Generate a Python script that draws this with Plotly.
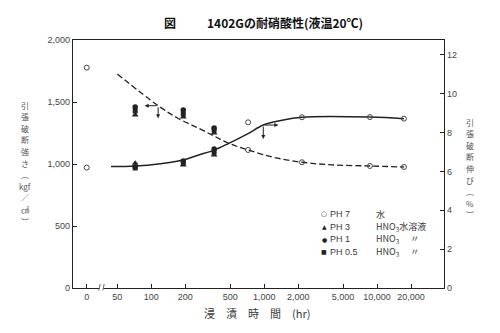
import math
import plotly.graph_objects as go

# ---------------- data ----------------
TICK_HOURS = [50, 100, 200, 500, 1000, 2000, 5000, 10000, 20000]
TICK_TEXT = ["0", "50", "100", "200", "500", "1,000", "2,000", "5,000", "10,000", "20,000"]
ZERO_HOUR_POS = 26.8  # display position of the "0 hr" column on the broken log axis

# tensile strength (kgf/cm2) -> left axis, dashed curve
STR_PH7_HOURS = [0, 720, 2160, 8640, 17280]
STR_PH7 = [1777, 1113, 1014, 984, 976]
ACID_HOURS = [72, 192, 360]
STR_PH3 = [1395, 1379, 1250]
STR_PH1 = [1460, 1435, 1290]
STR_PH05 = [1427, 1403, 1274]
STR_CURVE_HOURS = [50, 115, 172, 260, 360, 486, 720, 1200, 2160, 4000, 8640, 17280]
STR_CURVE = [1726, 1470, 1369, 1290, 1225, 1167, 1113, 1055, 1014, 993, 984, 976]

# elongation (%) -> right axis, solid curve
ELO_PH7_HOURS = [0, 720, 2160, 8640, 17280]
ELO_PH7 = [6.2, 8.53, 8.79, 8.80, 8.72]
ELO_PH3 = [6.42, 6.33, 6.85]
ELO_PH1 = [6.23, 6.54, 7.16]
ELO_PH05 = [6.18, 6.44, 7.0]
ELO_CURVE_HOURS = [44, 72, 120, 192, 263, 360, 486, 720, 982, 1400, 2160, 8640, 17280]
ELO_CURVE = [6.25, 6.28, 6.40, 6.59, 6.85, 7.10, 7.45, 7.95, 8.39, 8.62, 8.79, 8.80, 8.72]

# axis-indicator arrows: tail (hours, value) and heads
STR_ARROW = dict(tail=(115, 1470), left=87.4, down=1369)
ELO_ARROW = dict(tail=(982, 8.39), right=1334, down=7.67)

LEGEND_SYMBOLS = ["○", "▲", "●", "■"]
LEGEND_PH = ["PH 7", "PH 3", "PH 1", "PH 0.5"]
LEGEND_SOLN = ["水", "HNO<sub>3</sub>水溶液", "HNO<sub>3</sub>　 〃", "HNO<sub>3</sub>　 〃"]

LEFT_TITLE = ["引", "張", "破", "断", "強", "さ", "︵", "kgf", "／", "㎠", "︶"]
RIGHT_TITLE = ["引", "張", "破", "断", "伸", "び", "︵", "%", "︶"]

# ---------------- layout helpers ----------------
PL, PR, PT, PB = 73, 444, 40, 288
W, H = 500, 333


def pxx(x):
    return (x - PL) / (PR - PL)


def pxy(y):
    return (PB - y) / (PB - PT)


def pos(hours):
    return [ZERO_HOUR_POS if h == 0 else h for h in hours]


INK = "#222222"
TXT = "#3a3a3a"
JP = "Noto Sans CJK JP"
NUM = "Liberation Sans"

fig = go.Figure()

# curves
fig.add_trace(go.Scatter(x=STR_CURVE_HOURS, y=STR_CURVE, mode="lines", yaxis="y",
                         line=dict(color=INK, width=1.3, dash="6px,3px", shape="spline"),
                         showlegend=False, hoverinfo="skip"))
fig.add_trace(go.Scatter(x=ELO_CURVE_HOURS, y=ELO_CURVE, mode="lines", yaxis="y2",
                         line=dict(color=INK, width=1.5, shape="spline"),
                         showlegend=False, hoverinfo="skip"))

open_marker = dict(symbol="circle-open", size=5, color="#444444", line=dict(width=1))
tri_marker = dict(symbol="triangle-up", size=6, color=INK)
dot_marker = dict(symbol="circle", size=5.5, color=INK)
sq_marker = dict(symbol="square", size=5, color=INK)

# strength markers (left axis)
fig.add_trace(go.Scatter(x=pos(STR_PH7_HOURS), y=STR_PH7, mode="markers", marker=open_marker, yaxis="y", showlegend=False))
fig.add_trace(go.Scatter(x=ACID_HOURS, y=STR_PH3, mode="markers", marker=tri_marker, yaxis="y", showlegend=False))
fig.add_trace(go.Scatter(x=ACID_HOURS, y=STR_PH1, mode="markers", marker=dot_marker, yaxis="y", showlegend=False))
fig.add_trace(go.Scatter(x=ACID_HOURS, y=STR_PH05, mode="markers", marker=sq_marker, yaxis="y", showlegend=False))
# elongation markers (right axis)
fig.add_trace(go.Scatter(x=pos(ELO_PH7_HOURS), y=ELO_PH7, mode="markers", marker=open_marker, yaxis="y2", showlegend=False))
fig.add_trace(go.Scatter(x=ACID_HOURS, y=ELO_PH3, mode="markers", marker=tri_marker, yaxis="y2", showlegend=False))
fig.add_trace(go.Scatter(x=ACID_HOURS, y=ELO_PH1, mode="markers", marker=dot_marker, yaxis="y2", showlegend=False))
fig.add_trace(go.Scatter(x=ACID_HOURS, y=ELO_PH05, mode="markers", marker=sq_marker, yaxis="y2", showlegend=False))

ann = []
# title
ann.append(dict(text="<b>図</b>", x=pxx(170), y=pxy(22), xref="paper", yref="paper",
                showarrow=False, xanchor="center", yanchor="middle",
                font=dict(family=JP, size=12, color="#111")))
ann.append(dict(text="<b>1402Gの耐硝酸性(液温20℃)</b>", x=pxx(205), y=pxy(22), xref="paper", yref="paper",
                showarrow=False, xanchor="left", yanchor="middle",
                font=dict(family=JP, size=12, color="#111")))
# x-axis title
ann.append(dict(text="浸　漬　時　間　(hr)", x=pxx(257), y=pxy(313), xref="paper", yref="paper",
                showarrow=False, xanchor="center", yanchor="middle",
                font=dict(family=JP, size=11, color=TXT)))

# vertical axis titles, one glyph per line position
STEP = 11.6
left_top = 105
for i, ch in enumerate(LEFT_TITLE):
    ann.append(dict(text=ch, x=pxx(25), y=pxy(left_top + STEP * i), xref="paper", yref="paper",
                    showarrow=False, xanchor="center", yanchor="middle",
                    font=dict(family=JP, size=8, color="#555")))
right_top = 122
for i, ch in enumerate(RIGHT_TITLE):
    ann.append(dict(text=ch, x=pxx(470), y=pxy(right_top + STEP * i), xref="paper", yref="paper",
                    showarrow=False, xanchor="center", yanchor="middle",
                    font=dict(family=JP, size=8, color="#555")))

# legend (text)
for i, (sym, ph, sol) in enumerate(zip(LEGEND_SYMBOLS, LEGEND_PH, LEGEND_SOLN)):
    yy = 214 + 12.5 * i
    ann.append(dict(text=sym, x=pxx(324), y=pxy(yy), xref="paper", yref="paper", showarrow=False,
                    xanchor="center", yanchor="middle",
                    font=dict(family="DejaVu Sans", size=6 if sym != "○" else 7, color=INK)))
    ann.append(dict(text=ph, x=pxx(327.5), y=pxy(yy), xref="paper", yref="paper", showarrow=False,
                    xanchor="left", yanchor="middle", font=dict(family=NUM, size=9, color=TXT)))
    ann.append(dict(text=sol, x=pxx(374), y=pxy(yy), xref="paper", yref="paper", showarrow=False,
                    xanchor="left", yanchor="middle", font=dict(family=JP, size=9, color=TXT)))

# axis-indicator arrows (strength curve -> left axis, elongation curve -> right axis)
arrow = dict(showarrow=True, arrowhead=2, arrowsize=0.8, arrowwidth=1, arrowcolor=INK, text="")
sx, sy = math.log10(STR_ARROW["tail"][0]), STR_ARROW["tail"][1]
ex, ey = math.log10(ELO_ARROW["tail"][0]), ELO_ARROW["tail"][1]
ann.append(dict(x=math.log10(STR_ARROW["left"]), y=sy, ax=sx, ay=sy, xref="x", yref="y", axref="x", ayref="y", **arrow))
ann.append(dict(x=sx, y=STR_ARROW["down"], ax=sx, ay=sy, xref="x", yref="y", axref="x", ayref="y", **arrow))
ann.append(dict(x=math.log10(ELO_ARROW["right"]), y=ey, ax=ex, ay=ey, xref="x", yref="y2", axref="x", ayref="y2", **arrow))
ann.append(dict(x=ex, y=ELO_ARROW["down"], ax=ex, ay=ey, xref="x", yref="y2", axref="x", ayref="y2", **arrow))

# axis break marks on the x axis
shapes = [
    dict(type="rect", xref="paper", yref="paper", x0=pxx(99.5), x1=pxx(103.5), y0=pxy(289.5), y1=pxy(286.5),
         fillcolor="white", line=dict(width=0), layer="above"),
    dict(type="line", xref="paper", yref="paper", x0=pxx(98.8), x1=pxx(100.2), y0=pxy(290.5), y1=pxy(284),
         line=dict(color="#555", width=0.9), layer="above"),
    dict(type="line", xref="paper", yref="paper", x0=pxx(102.8), x1=pxx(104.2), y0=pxy(290.5), y1=pxy(284),
         line=dict(color="#555", width=0.9), layer="above"),
]

tickfont = dict(family=NUM, size=9, color="#444")
fig.update_layout(
    width=W, height=H,
    margin=dict(l=PL, r=W - PR, t=PT, b=H - PB, pad=0),
    paper_bgcolor="white", plot_bgcolor="white",
    showlegend=False,
    annotations=ann, shapes=shapes,
    xaxis=dict(type="log", range=[1.3065, 4.5925], tickvals=[ZERO_HOUR_POS] + TICK_HOURS, ticktext=TICK_TEXT,
               ticks="inside", ticklen=4, tickcolor=INK, showline=True, linecolor=INK, linewidth=1.3,
               mirror=True, showgrid=False, zeroline=False, tickfont=tickfont),
    yaxis=dict(range=[0, 2000], tickvals=[0, 500, 1000, 1500, 2000], tickformat=",",
               ticks="inside", ticklen=4, tickcolor=INK, showline=True, linecolor=INK, linewidth=1.3,
               showgrid=False, zeroline=False, tickfont=tickfont),
    yaxis2=dict(range=[0, 12.77], tickvals=[0, 2, 4, 6, 8, 10, 12], overlaying="y", side="right",
                ticks="inside", ticklen=4, tickcolor=INK, showline=True, linecolor=INK, linewidth=1.3,
                showgrid=False, zeroline=False, tickfont=tickfont),
)

fig.write_html("out.html")
